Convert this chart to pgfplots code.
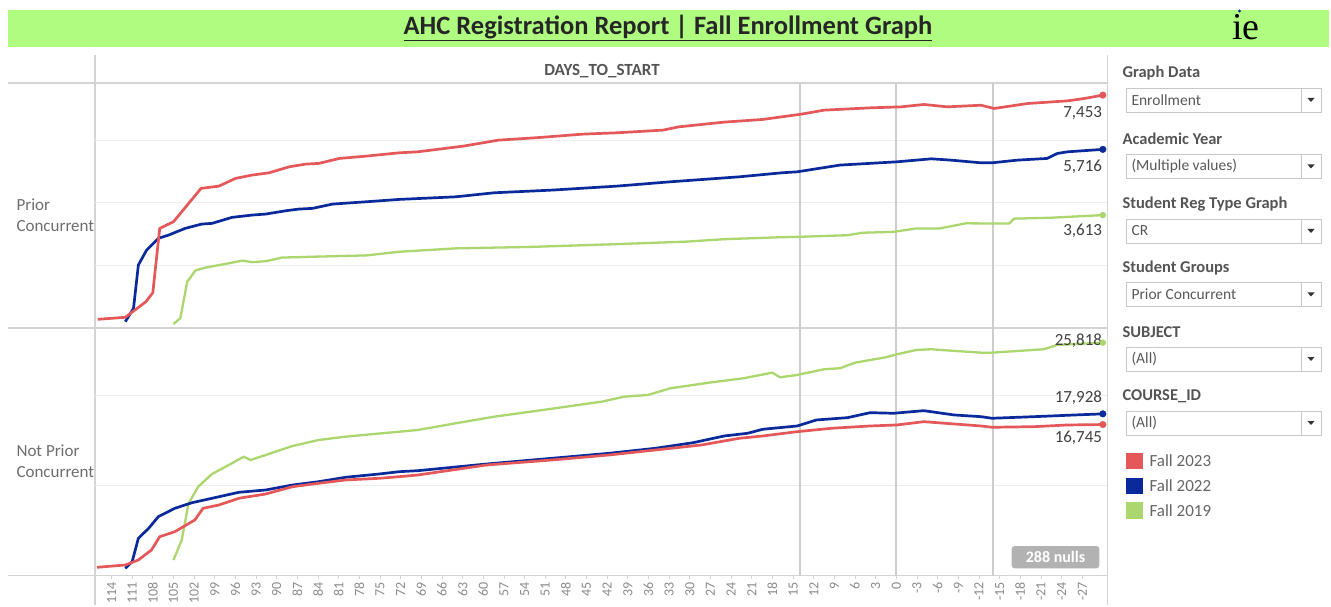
\documentclass[border=0pt]{standalone}
\usepackage{pgfplots}
\pgfplotsset{compat=1.18}
\usepackage{fontspec}
\setmainfont{Carlito}
\newfontfamily\serifie{Liberation Serif}

\definecolor{titlegreen}{RGB}{175,252,128}
\definecolor{f23}{RGB}{228,88,90}
\definecolor{f22}{RGB}{10,42,155}
\definecolor{f19}{RGB}{172,214,110}
\definecolor{framegray}{RGB}{212,212,212}
\definecolor{gridgray}{RGB}{238,238,238}
\definecolor{refgray}{RGB}{205,205,205}
\definecolor{hdrgray}{RGB}{110,110,110}
\definecolor{tickgray}{RGB}{140,140,140}
\definecolor{lblgray}{RGB}{85,85,85}
\definecolor{boxgray}{RGB}{200,200,200}

\pgfplotsset{
  pane/.style={
    scale only axis, width=1012pt,
    xmin=-30.6, xmax=116.4, x dir=reverse, ymin=0,
    axis line style={draw=none},
    ymajorgrids, grid style={gridgray, line width=1pt},
    yticklabels={}, ytick style={draw=none}, scaled y ticks=false,
    clip=false,
    /pgf/number format/assume math mode=true,
  },
  r23/.style={f23, line width=2.7pt, line join=round},
  b22/.style={f22, line width=2.7pt, line join=round},
  g19/.style={f19, line width=2.3pt, line join=round},
}
\tikzset{endlbl/.style={anchor=east, font=\fontsize{17}{17}\selectfont, text=black!75}}

\begin{document}
\begin{tikzpicture}[x=1pt,y=1pt]
\fill[white] (0,0) rectangle (1331,605);

% title bar
\fill[titlegreen] (8,558) rectangle (1329,595);
\node[font=\fontsize{26.5}{28}\selectfont\bfseries, text=black!85] at (668,577)
  {\underline{AHC Registration Report | Fall Enrollment Graph}};
\node[font=\serifie\fontsize{38}{38}\selectfont] at (1246,578) {ie};
\fill[f22] (1239.5,594) circle (1.6pt);

% frame lines
\draw[framegray, line width=1.2pt] (8,522) -- (1107,522);
\draw[framegray, line width=1.2pt] (8,277) -- (1107,277);
\draw[framegray, line width=1.2pt] (8,29.3) -- (1107,29.3);
\draw[framegray, line width=1.2pt] (95,550) -- (95,0);
\draw[framegray, line width=1.2pt] (1107.5,550) -- (1107.5,0);

\node[font=\fontsize{17}{17}\selectfont\bfseries, text=lblgray] at (602,534) {DAYS\_TO\_START};
\node[anchor=west, align=left, font=\fontsize{17}{21}\selectfont, text=hdrgray] at (13,390) {Prior\\Concurrent};
\node[anchor=west, align=left, font=\fontsize{17}{21}\selectfont, text=hdrgray] at (13,143.5) {Not Prior\\Concurrent};

% upper pane: Prior Concurrent
\begin{axis}[pane, at={(95pt,277pt)}, anchor=south west, height=245pt,
  ymax=7840, ytick={2000,4000,6000}, xtick=\empty]
\draw[refgray, line width=1.8pt] (axis cs:14,0) -- (axis cs:14,7840);
\draw[refgray, line width=1.8pt] (axis cs:0,0) -- (axis cs:0,7840);
\draw[refgray, line width=1.8pt] (axis cs:-14,0) -- (axis cs:-14,7840);
\addplot[g19] coordinates {
(105,127) (104,314) (103,1480) (101.8,1842) (100.4,1931) (97.5,2048) (95,2156)
(93.6,2107) (91.6,2136) (89.2,2254) (84.3,2283) (77,2323) (72.2,2440) (64,2548)
(52.8,2597) (41.7,2675) (30.5,2764) (25,2842) (17.2,2901) (13.8,2920) (7.1,2969)
(4.9,3048) (0.4,3077) (-2.9,3185) (-6.3,3185) (-10.1,3351) (-14.2,3342)
(-16.4,3342) (-17.1,3499) (-22.4,3528) (-30,3613)};
\addplot[b22] coordinates {
(112,202) (110.8,630) (110.1,2015) (108.9,2494) (107.2,2868) (105.7,2974)
(103.3,3188) (100.9,3326) (99.4,3348) (96.5,3540) (93.6,3613) (91.6,3646)
(88.7,3751) (86.8,3805) (84.8,3828) (81.9,3965) (77,4039) (72.2,4115) (64,4198)
(58.4,4327) (50,4413) (40.6,4540) (32.8,4679) (22.8,4838) (16.6,4967) (14.4,4998)
(8.2,5213) (-0.1,5318) (-5.1,5414) (-7.9,5372) (-12.3,5286) (-13.9,5286)
(-17.6,5372) (-21.9,5426) (-23.4,5586) (-24.9,5638) (-30,5716)};
\addplot[r23] coordinates {
(116,278) (112,342) (109,841) (108,1129) (107,3188) (105,3400) (103,3933)
(101,4467) (98.4,4540) (96,4787) (93.6,4892) (91.1,4967) (88.2,5158) (85.8,5244)
(83.9,5267) (80.9,5426) (77,5500) (72.2,5606) (69.5,5638) (62.9,5820) (57.8,6011)
(51.7,6098) (45.6,6203) (40.6,6246) (33.9,6332) (31.6,6437) (25,6588) (19.4,6674)
(13.8,6843) (10.5,6971) (3.8,7045) (-0.7,7077) (-4,7153) (-7.4,7077) (-12.3,7129)
(-14.2,7025) (-19.1,7184) (-24.9,7269) (-27.3,7344) (-30,7453)};
\addplot[only marks, mark=*, mark size=3pt, f19] coordinates {(-30,3613)};
\addplot[only marks, mark=*, mark size=3.3pt, f22] coordinates {(-30,5716)};
\addplot[only marks, mark=*, mark size=3.3pt, f23] coordinates {(-30,7453)};
\node[endlbl] at (axis cs:-30.4,6880) {7,453};
\node[endlbl] at (axis cs:-30.4,5152) {5,716};
\node[endlbl] at (axis cs:-30.4,3104) {3,613};
\end{axis}

% lower pane: Not Prior Concurrent
\begin{axis}[pane, at={(95pt,29.3pt)}, anchor=south west, height=247.7pt,
  ymax=27440, ytick={10000,20000},
  xtick={-27,-24,...,114}, xtick pos=bottom, tick align=outside,
  major tick length=3pt, xtick style={framegray, line width=0.8pt},
  xticklabel style={rotate=90, anchor=east, font=\fontsize{14}{14}\selectfont, text=tickgray}]
\draw[refgray, line width=1.8pt] (axis cs:14,0) -- (axis cs:14,27440);
\draw[refgray, line width=1.8pt] (axis cs:0,0) -- (axis cs:0,27440);
\draw[refgray, line width=1.8pt] (axis cs:-14,0) -- (axis cs:-14,27440);
\addplot[g19] coordinates {
(105,1740) (103.8,3956) (102.8,8022) (101.4,9861) (99.4,11268) (96.5,12454)
(94.8,13185) (93.8,12819) (91.6,13374) (87.7,14371) (83.9,15036) (80,15401)
(75.1,15750) (72.2,15950) (69.5,16144) (64,16886) (58.4,17617) (50.6,18437)
(42.8,19279) (39.5,19833) (36.1,20022) (32.8,20764) (27.2,21384) (22.2,21872)
(18,22493) (16.9,21982) (14.4,22238) (10.5,22869) (8.2,22980) (6,23600)
(1.5,24199) (-0.1,24530) (-2.9,25008) (-5.1,25085) (-7.9,24930) (-12.3,24708)
(-13.9,24708) (-21.4,25085) (-23.4,25562) (-30,25818)};
\addplot[b22] coordinates {
(112,820) (111,1551) (110.1,4144) (108.6,5252) (107.2,6537) (104.8,7468)
(102.3,8088) (99.4,8576) (95.5,9241) (91.6,9496) (87.7,10050) (83.9,10415)
(80,10903) (75.1,11268) (72.2,11523) (69.5,11634) (59.5,12376) (50,13008)
(41.7,13562) (35,14116) (29.5,14736) (25,15479) (21.6,15778) (19.4,16221)
(14.4,16587) (11.6,17252) (7.1,17506) (3.8,18060) (0.4,17994) (-4,18282)
(-8.4,17805) (-12.3,17617) (-13.9,17440) (-20,17617) (-25.9,17805) (-30,17928)};
\addplot[r23] coordinates {
(116.1,930) (112,1186) (110.1,1740) (108.2,2848) (107,4321) (104.8,4875)
(101.9,6172) (100.7,7468) (98.4,7834) (95.5,8576) (91.6,9052) (87.7,9861)
(83.9,10238) (80,10604) (75.1,10792) (72.2,10969) (69.5,11157) (59.5,12265)
(50,12820) (41.7,13374) (35,13927) (28.3,14481) (22.8,15224) (19.4,15479)
(14.4,15955) (9.4,16332) (3.8,16587) (-0.1,16698) (-4,17064) (-8.4,16809)
(-12.3,16587) (-13.9,16443) (-20,16509) (-24.9,16698) (-30,16745)};
\addplot[only marks, mark=*, mark size=3pt, f19] coordinates {(-30,25818)};
\addplot[only marks, mark=*, mark size=3.3pt, f22] coordinates {(-30,17928)};
\addplot[only marks, mark=*, mark size=3.3pt, f23] coordinates {(-30,16745)};
\node[endlbl] at (axis cs:-30.4,26004) {25,818};
\node[endlbl] at (axis cs:-30.4,19689) {17,928};
\node[endlbl] at (axis cs:-30.4,15257) {16,745};
\end{axis}

% nulls badge
\fill[black!30, rounded corners=3pt] (1011.7,36.7) rectangle (1099.3,59);
\node[font=\fontsize{16}{16}\selectfont\bfseries, text=white] at (1055.5,47.9) {288 nulls};

% filter panel
\foreach \lab/\val/\ly/\by in {
  Graph Data/Enrollment/532/505,
  Academic Year/(Multiple values)/466/438.5,
  Student Reg Type Graph/CR/401/374,
  Student Groups/Prior Concurrent/337/310.5,
  SUBJECT/(All)/273/246,
  COURSE\_ID/(All)/209/182}{
  \node[anchor=west, font=\fontsize{16.5}{16.5}\selectfont\bfseries, text=lblgray] at (1119,\ly) {\lab};
  \draw[boxgray, fill=white, line width=0.8pt] (1126,\by-12) rectangle (1321.7,\by+12);
  \draw[boxgray, line width=0.8pt] (1301,\by-12) -- (1301,\by+12);
  \fill[black!80] (1307.5,\by+2) -- (1314.5,\by+2) -- (1311,\by-2) -- cycle;
  \node[anchor=west, font=\fontsize{15.5}{15.5}\selectfont, text=black!65] at (1128,\by) {\val};
}

% legend
\foreach \c/\t/\yy in {f23/Fall 2023/144, f22/Fall 2022/119, f19/Fall 2019/94.3}{
  \fill[\c] (1126,\yy-8.3) rectangle (1142.7,\yy+8.3);
  \node[anchor=west, font=\fontsize{17}{17}\selectfont, text=black!60] at (1146,\yy) {\t};
}
\end{tikzpicture}
\end{document}
